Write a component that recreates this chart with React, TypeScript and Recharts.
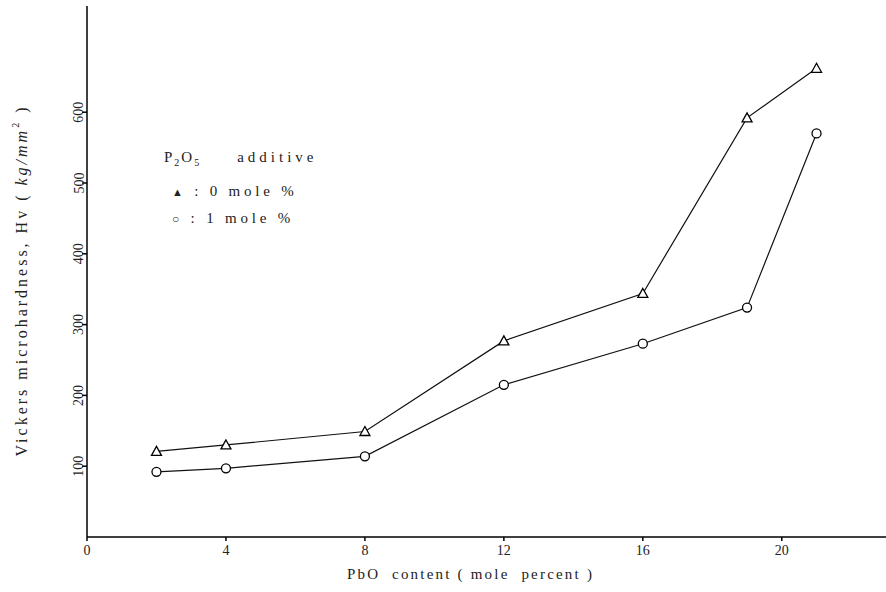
import { LineChart, Line, XAxis, YAxis } from 'recharts';

// PbO content (mole percent)
const pboContent = [2, 4, 8, 12, 16, 19, 21];
// Vickers microhardness Hv (kg/mm2)
const hvP2O5Zero = [121, 130, 149, 277, 344, 592, 662];
const hvP2O5One = [92, 97, 114, 215, 273, 324, 570];

const xTicks = [0, 4, 8, 12, 16, 20];
const yTicks = [100, 200, 300, 400, 500, 600];

const data = pboContent.map((pbo, i) => ({
  pbo,
  zero: hvP2O5Zero[i],
  one: hvP2O5One[i],
}));

const FONT = "'Liberation Serif', 'Times New Roman', Tinos, 'DejaVu Serif', 'Noto Serif', serif";

const TriangleDot = (props: any) => {
  const { cx, cy } = props;
  if (cx == null || cy == null) return null;
  return (
    <path
      d={`M${cx},${cy - 5} L${cx + 5},${cy + 4} L${cx - 5},${cy + 4} Z`}
      fill="#fff"
      stroke="#000"
      strokeWidth={1.3}
    />
  );
};

const CircleDot = (props: any) => {
  const { cx, cy } = props;
  if (cx == null || cy == null) return null;
  return <circle cx={cx} cy={cy} r={4.5} fill="#fff" stroke="#000" strokeWidth={1.3} />;
};

const YTick = (props: any) => {
  const { x, y, payload } = props;
  return (
    <text
      x={x}
      y={y}
      transform={`rotate(-90 ${x} ${y})`}
      textAnchor="middle"
      dominantBaseline="central"
      style={{ fontFamily: FONT, fontSize: 14 }}
      fill="#222"
    >
      {payload.value}
    </text>
  );
};

const XTick = (props: any) => {
  const { x, y, payload } = props;
  return (
    <text
      x={x}
      y={y + 7}
      textAnchor="middle"
      dominantBaseline="central"
      style={{ fontFamily: FONT, fontSize: 14 }}
      fill="#222"
    >
      {payload.value}
    </text>
  );
};

const XTitle = (props: any) => {
  const vb = props.viewBox;
  return (
    <text
      x={vb.x + vb.width / 2 - 16}
      y={vb.y + 37}
      textAnchor="middle"
      dominantBaseline="central"
      style={{ fontFamily: FONT, fontSize: 15, letterSpacing: 2.2, whiteSpace: 'pre' }}
      fill="#222"
    >
      PbO  content ( mole  percent )
    </text>
  );
};

const YTitle = (props: any) => {
  const vb = props.viewBox;
  const cx = vb.x + 21;
  const cy = vb.y + vb.height / 2 + 9;
  return (
    <text
      x={cx}
      y={cy}
      transform={`rotate(-90 ${cx} ${cy})`}
      textAnchor="middle"
      dominantBaseline="central"
      style={{ fontFamily: FONT, fontSize: 16, letterSpacing: 3, whiteSpace: 'pre' }}
      fill="#222"
    >
      Vickers microhardness, Hv ( <tspan fontStyle="italic">kg/mm</tspan>
      <tspan fontSize={10} dy={-6}>2</tspan>
      <tspan dy={6}> )</tspan>
    </text>
  );
};

const legendText = {
  position: 'absolute' as const,
  fontFamily: FONT,
  fontSize: 15,
  color: '#222',
  letterSpacing: 3.8,
  lineHeight: '18px',
  whiteSpace: 'pre' as const,
};

export default function App() {
  return (
    <div style={{ position: 'absolute', left: 0, top: 0, width: 886, height: 592, background: '#fff' }}>
      <LineChart width={886} height={592} data={data} margin={{ top: 6, right: 0, bottom: 0, left: 0 }}>
        <XAxis
          dataKey="pbo"
          type="number"
          domain={[0, 23]}
          ticks={xTicks}
          height={55}
          tickSize={4}
          tick={<XTick />}
          stroke="#000"
          strokeWidth={1.5}
          label={XTitle}
        />
        <XAxis
          xAxisId="top"
          dataKey="pbo"
          type="number"
          orientation="top"
          domain={[0, 23]}
          height={0}
          tick={false}
          tickLine={false}
          stroke="#000"
          strokeWidth={1.5}
        />
        <YAxis
          type="number"
          domain={[0, 750]}
          ticks={yTicks}
          width={87}
          tickSize={5}
          tickMargin={3}
          tick={<YTick />}
          stroke="#000"
          strokeWidth={1.5}
          label={YTitle}
        />
        <Line
          type="linear"
          dataKey="zero"
          stroke="#111"
          strokeWidth={1.2}
          dot={<TriangleDot />}
          activeDot={false}
          isAnimationActive={false}
        />
        <Line
          type="linear"
          dataKey="one"
          stroke="#111"
          strokeWidth={1.2}
          dot={<CircleDot />}
          activeDot={false}
          isAnimationActive={false}
        />
      </LineChart>
      <div style={{ ...legendText, left: 164, top: 148, letterSpacing: 2 }}>
        P<sub style={{ fontSize: 10 }}>2</sub>O<sub style={{ fontSize: 10 }}>5</sub>
        <span style={{ marginLeft: 36, letterSpacing: 4 }}>additive</span>
      </div>
      <div style={{ ...legendText, left: 172, top: 182 }}>
        <span style={{ fontSize: 11 }}>▲</span> : 0 mole %
      </div>
      <div style={{ ...legendText, left: 172, top: 209 }}>
        <span style={{ fontSize: 12 }}>○</span> : 1 mole %
      </div>
    </div>
  );
}
